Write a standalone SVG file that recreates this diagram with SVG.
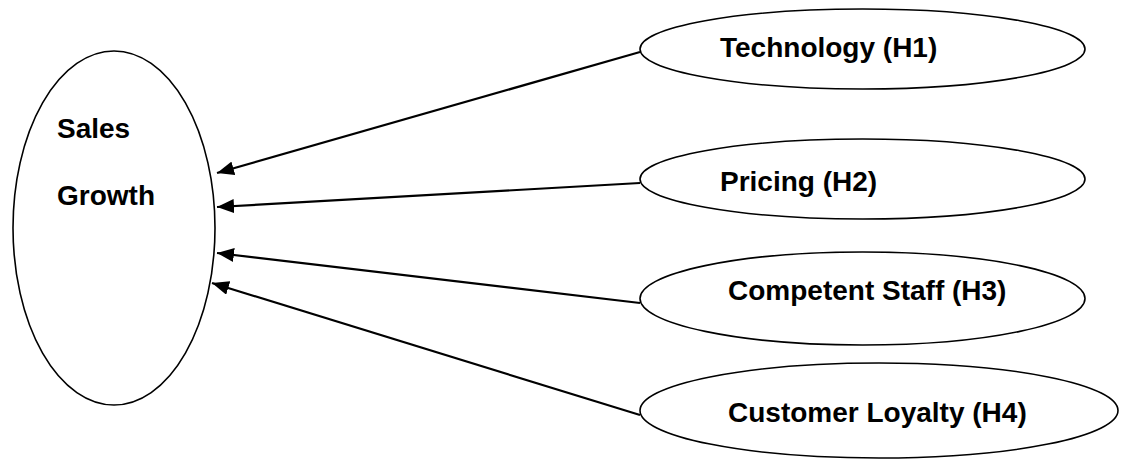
<svg xmlns="http://www.w3.org/2000/svg" width="1144" height="459" viewBox="0 0 1144 459">
  <style>
    .node { fill: #ffffff; stroke: #000000; stroke-width: 1.6; }
    .label { font-family: "Liberation Sans", Arial, sans-serif; font-weight: bold; font-size: 28px; fill: #000000; }
    .edge { stroke: #000000; stroke-width: 2.2; fill: none; }
  </style>
  <defs>
    <marker id="arrow" markerUnits="userSpaceOnUse" markerWidth="18" markerHeight="14" refX="17" refY="7" orient="auto">
      <path d="M0,0 L17,7 L0,14 Z" fill="#000000"/>
    </marker>
  </defs>
  <rect width="1144" height="459" fill="#ffffff"/>

  <g id="sales-growth">
    <ellipse class="node" cx="114" cy="228" rx="101" ry="177"/>
    <text class="label" x="57" y="138">Sales</text>
    <text class="label" x="57" y="205">Growth</text>
  </g>

  <g id="technology">
    <ellipse class="node" cx="862.5" cy="49" rx="222.5" ry="40"/>
    <text class="label" x="720" y="57">Technology (H1)</text>
  </g>

  <g id="pricing">
    <ellipse class="node" cx="862.5" cy="179" rx="222.5" ry="40"/>
    <text class="label" x="720" y="191">Pricing (H2)</text>
  </g>

  <g id="competent-staff">
    <ellipse class="node" cx="862.5" cy="298.5" rx="222.5" ry="46.5"/>
    <text class="label" x="728" y="300">Competent Staff (H3)</text>
  </g>

  <g id="customer-loyalty">
    <ellipse class="node" cx="879" cy="410.5" rx="239" ry="47.5"/>
    <text class="label" x="728" y="422">Customer Loyalty (H4)</text>
  </g>

  <g id="connectors">
    <line class="edge" x1="640" y1="52" x2="217" y2="173" marker-end="url(#arrow)"/>
    <line class="edge" x1="640" y1="183" x2="217" y2="207" marker-end="url(#arrow)"/>
    <line class="edge" x1="640" y1="303" x2="217" y2="253" marker-end="url(#arrow)"/>
    <line class="edge" x1="640" y1="415" x2="212" y2="283" marker-end="url(#arrow)"/>
  </g>
</svg>
